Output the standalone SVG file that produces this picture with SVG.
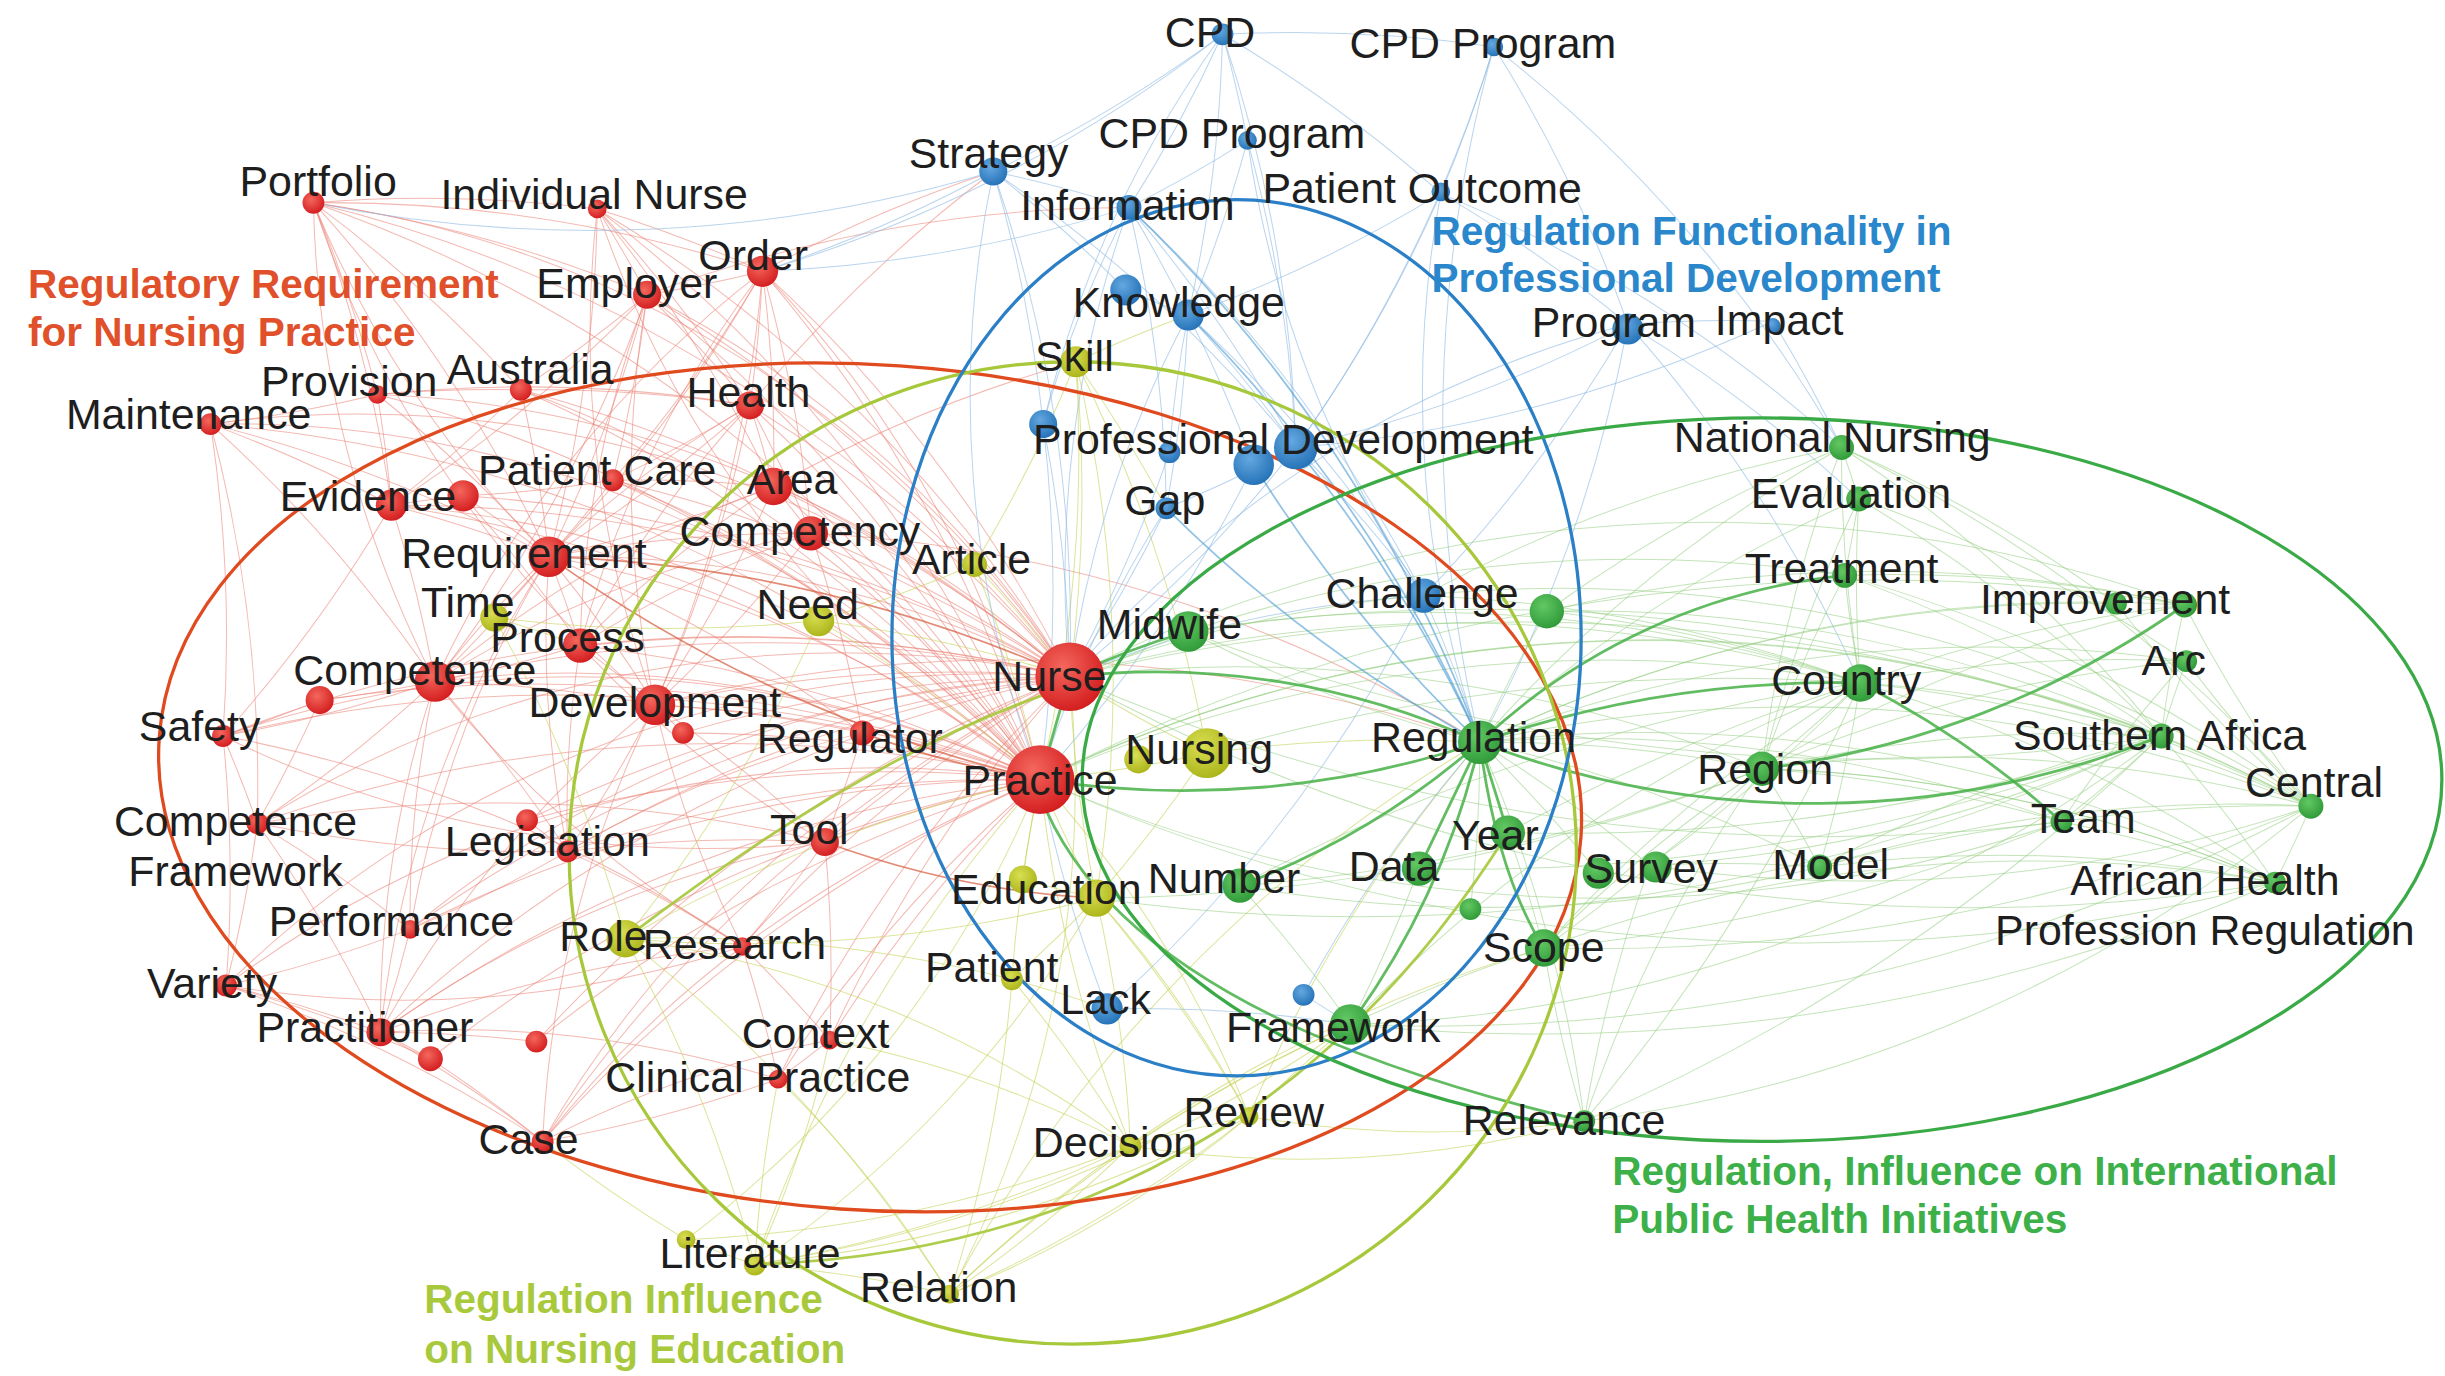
<svg xmlns="http://www.w3.org/2000/svg" width="2445" height="1376" viewBox="0 0 2445 1376">
<defs>
<radialGradient id="gR" cx="40%" cy="35%" r="70%"><stop offset="0" stop-color="#f4675c"/><stop offset="1" stop-color="#d21a1d"/></radialGradient>
<radialGradient id="gY" cx="40%" cy="35%" r="70%"><stop offset="0" stop-color="#d9df52"/><stop offset="1" stop-color="#a9b318"/></radialGradient>
<radialGradient id="gB" cx="40%" cy="35%" r="70%"><stop offset="0" stop-color="#64a8e0"/><stop offset="1" stop-color="#2270b6"/></radialGradient>
<radialGradient id="gG" cx="40%" cy="35%" r="70%"><stop offset="0" stop-color="#62c862"/><stop offset="1" stop-color="#2e9838"/></radialGradient>
</defs>
<style>
.t{font-family:"Liberation Sans",Arial,sans-serif;font-size:27.5px;fill:#1e1e1e;text-anchor:middle}
.h{font-family:"Liberation Sans",Arial,sans-serif;font-size:26px;font-weight:bold}
#connectors path{fill:none}
.r path{stroke:#e97f72;stroke-width:.65;opacity:.55}
.y path{stroke:#c6d257;stroke-width:.65;opacity:.6}
.b path{stroke:#8cb9e2;stroke-width:.65;opacity:.6}
.g path{stroke:#93cd80;stroke-width:.65;opacity:.55}
.rs path{stroke:#d65a3c;stroke-width:1.1;opacity:.7}
.ys path{stroke:#a6c83a;stroke-width:1.8;opacity:.9}
.bs path{stroke:#4a9ad2;stroke-width:1.1;opacity:.6}
.gs path{stroke:#46b046;stroke-width:1.8;opacity:.85}
.cl{fill:none;stroke-width:2.1}
.nr{fill:url(#gR)}.ny{fill:url(#gY)}.nb{fill:url(#gB)}.ng{fill:url(#gG)}
</style>
<rect width="2445" height="1376" fill="#ffffff"/>
<g transform="scale(1.55931)">
<g id="connectors">
<g class="r">
<path d="M201 130A900 900 0 0 1 383 134"/><path d="M201 130A900 900 0 0 1 415 189"/><path d="M201 130A900 900 0 0 1 352 357"/><path d="M201 130A900 900 0 0 1 251 324"/><path d="M201 130A900 900 0 0 1 489 174"/><path d="M201 130A900 900 0 0 1 242 253"/><path d="M201 130A900 900 0 0 1 334 250"/><path d="M201 130A900 900 0 0 1 667 500"/><path d="M201 130A900 900 0 0 1 686 434"/>
<path d="M383 134A900 900 0 0 1 489 174"/><path d="M383 134A900 900 0 0 1 415 189"/><path d="M383 134A900 900 0 0 1 481 260"/><path d="M383 134A900 900 0 0 1 352 357"/><path d="M383 134A900 900 0 0 1 686 434"/><path d="M383 134A900 900 0 0 1 496 312"/><path d="M383 134A900 900 0 0 1 667 500"/>
<path d="M489 174A900 900 0 0 1 415 189"/><path d="M489 174A900 900 0 0 1 481 260"/><path d="M489 174A900 900 0 0 1 686 434"/><path d="M489 174A900 900 0 0 1 667 500"/><path d="M489 174A900 900 0 0 1 496 312"/><path d="M489 174A900 900 0 0 1 520 342"/><path d="M489 174A900 900 0 0 1 352 357"/><path d="M489 174A900 900 0 0 1 393 308"/><path d="M489 174A900 900 0 0 1 420 452"/>
<path d="M415 189A900 900 0 0 1 481 260"/><path d="M415 189A900 900 0 0 1 334 250"/><path d="M415 189A900 900 0 0 1 352 357"/><path d="M415 189A900 900 0 0 1 686 434"/><path d="M415 189A900 900 0 0 1 667 500"/><path d="M415 189A900 900 0 0 1 393 308"/><path d="M415 189A900 900 0 0 1 251 324"/><path d="M415 189A900 900 0 0 1 279 437"/>
<path d="M242 253A900 900 0 0 1 135 272"/><path d="M242 253A900 900 0 0 1 334 250"/><path d="M242 253A900 900 0 0 1 251 324"/><path d="M242 253A900 900 0 0 1 352 357"/><path d="M242 253A900 900 0 0 1 667 500"/><path d="M242 253A900 900 0 0 1 481 260"/>
<path d="M334 250A900 900 0 0 1 481 260"/><path d="M334 250A900 900 0 0 1 352 357"/><path d="M334 250A900 900 0 0 1 686 434"/><path d="M334 250A900 900 0 0 1 667 500"/><path d="M334 250A900 900 0 0 1 251 324"/>
<path d="M135 272A900 900 0 0 1 251 324"/><path d="M135 272A900 900 0 0 1 352 357"/><path d="M135 272A900 900 0 0 1 279 437"/><path d="M135 272A900 900 0 0 1 143 472"/><path d="M135 272A900 900 0 0 1 667 500"/><path d="M135 272A900 900 0 0 1 165 528"/>
<path d="M481 260A900 900 0 0 1 496 312"/><path d="M481 260A900 900 0 0 1 686 434"/><path d="M481 260A900 900 0 0 1 667 500"/><path d="M481 260A900 900 0 0 1 520 342"/><path d="M481 260A900 900 0 0 1 393 308"/><path d="M481 260A900 900 0 0 1 352 357"/><path d="M481 260A900 900 0 0 1 420 452"/>
<path d="M393 308A900 900 0 0 1 496 312"/><path d="M393 308A900 900 0 0 1 352 357"/><path d="M393 308A900 900 0 0 1 686 434"/><path d="M393 308A900 900 0 0 1 667 500"/><path d="M393 308A900 900 0 0 1 297 318"/>
<path d="M496 312A900 900 0 0 1 520 342"/><path d="M496 312A900 900 0 0 1 686 434"/><path d="M496 312A900 900 0 0 1 667 500"/><path d="M496 312A900 900 0 0 1 352 357"/><path d="M496 312A900 900 0 0 1 420 452"/>
<path d="M251 324A900 900 0 0 1 352 357"/><path d="M251 324A900 900 0 0 1 279 437"/><path d="M251 324A900 900 0 0 1 667 500"/><path d="M251 324A900 900 0 0 1 686 434"/><path d="M251 324A900 900 0 0 1 297 318"/><path d="M251 324A900 900 0 0 1 143 472"/>
<path d="M297 318A900 900 0 0 1 352 357"/><path d="M297 318A900 900 0 0 1 686 434"/><path d="M297 318A900 900 0 0 1 372 414"/>
<path d="M352 357A900 900 0 0 1 520 342"/><path d="M352 357A900 900 0 0 1 372 414"/><path d="M352 357A900 900 0 0 1 279 437"/><path d="M352 357A900 900 0 0 1 420 452"/><path d="M352 357A900 900 0 0 1 317 396"/><path d="M352 357A900 900 0 0 1 553 470"/>
<path d="M520 342A900 900 0 0 1 686 434"/><path d="M520 342A900 900 0 0 1 667 500"/><path d="M520 342A900 900 0 0 1 420 452"/><path d="M520 342A900 900 0 0 1 553 470"/>
<path d="M372 414A900 900 0 0 1 279 437"/><path d="M372 414A900 900 0 0 1 420 452"/><path d="M372 414A900 900 0 0 1 686 434"/><path d="M372 414A900 900 0 0 1 667 500"/>
<path d="M279 437A900 900 0 0 1 205 449"/><path d="M279 437A900 900 0 0 1 420 452"/><path d="M279 437A900 900 0 0 1 686 434"/><path d="M279 437A900 900 0 0 1 143 472"/><path d="M279 437A900 900 0 0 1 364 546"/><path d="M279 437A900 900 0 0 1 165 528"/>
<path d="M205 449A900 900 0 0 1 143 472"/><path d="M205 449A900 900 0 0 1 165 528"/><path d="M205 449A900 900 0 0 1 667 500"/>
<path d="M420 452A900 900 0 0 1 438 470"/><path d="M420 452A900 900 0 0 1 686 434"/><path d="M420 452A900 900 0 0 1 667 500"/><path d="M420 452A900 900 0 0 1 553 470"/><path d="M420 452A900 900 0 0 1 364 546"/><path d="M420 452A900 900 0 0 1 529 540"/>
<path d="M438 470A900 900 0 0 1 667 500"/><path d="M438 470A900 900 0 0 1 686 434"/>
<path d="M143 472A900 900 0 0 1 165 528"/><path d="M143 472A900 900 0 0 1 667 500"/><path d="M143 472A900 900 0 0 1 145 632"/><path d="M143 472A900 900 0 0 1 686 434"/><path d="M143 472A900 900 0 0 1 476 607"/>
<path d="M553 470A900 900 0 0 1 529 540"/>
<path d="M364 546A900 900 0 0 1 338 526"/><path d="M364 546A900 900 0 0 1 667 500"/><path d="M364 546A900 900 0 0 1 686 434"/><path d="M364 546A900 900 0 0 1 165 528"/><path d="M364 546A900 900 0 0 1 263 596"/><path d="M364 546A900 900 0 0 1 476 607"/><path d="M364 546A900 900 0 0 1 529 540"/>
<path d="M338 526A900 900 0 0 1 686 434"/><path d="M338 526A900 900 0 0 1 667 500"/>
<path d="M165 528A900 900 0 0 1 145 632"/><path d="M165 528A900 900 0 0 1 263 596"/><path d="M165 528A900 900 0 0 1 667 500"/><path d="M165 528A900 900 0 0 1 244 662"/><path d="M165 528A900 900 0 0 1 529 540"/>
<path d="M529 540A900 900 0 0 1 667 500"/><path d="M529 540A900 900 0 0 1 686 434"/><path d="M529 540A900 900 0 0 1 476 607"/><path d="M529 540A900 900 0 0 1 532 667"/>
<path d="M263 596A900 900 0 0 1 244 662"/><path d="M263 596A900 900 0 0 1 145 632"/><path d="M263 596A900 900 0 0 1 667 500"/><path d="M263 596A900 900 0 0 1 686 434"/>
<path d="M476 607A900 900 0 0 1 667 500"/><path d="M476 607A900 900 0 0 1 686 434"/><path d="M476 607A900 900 0 0 1 532 667"/><path d="M476 607A900 900 0 0 1 499 692"/>
<path d="M145 632A900 900 0 0 1 244 662"/><path d="M145 632A900 900 0 0 1 276 679"/><path d="M145 632A900 900 0 0 1 348 732"/>
<path d="M244 662A900 900 0 0 1 276 679"/><path d="M244 662A900 900 0 0 1 344 668"/><path d="M244 662A900 900 0 0 1 348 732"/><path d="M244 662A900 900 0 0 1 667 500"/><path d="M244 662A900 900 0 0 1 686 434"/><path d="M244 662A900 900 0 0 1 476 607"/>
<path d="M276 679A900 900 0 0 1 348 732"/><path d="M276 679A900 900 0 0 1 667 500"/><path d="M344 668A900 900 0 0 1 667 500"/><path d="M344 668A900 900 0 0 1 686 434"/>
<path d="M532 667A900 900 0 0 1 499 692"/><path d="M532 667A900 900 0 0 1 667 500"/><path d="M532 667A900 900 0 0 1 686 434"/>
<path d="M499 692A900 900 0 0 1 348 732"/><path d="M499 692A900 900 0 0 1 667 500"/><path d="M499 692A900 900 0 0 1 686 434"/>
<path d="M348 732A900 900 0 0 1 667 500"/><path d="M348 732A900 900 0 0 1 686 434"/>
<path d="M489 174A900 900 0 0 1 637 110"/><path d="M481 260A900 900 0 0 1 637 110"/><path d="M415 189A900 900 0 0 1 724 133"/><path d="M496 312A900 900 0 0 1 690 232"/><path d="M520 342A900 900 0 0 1 949 476"/><path d="M420 452A900 900 0 0 1 949 476"/>
<path d="M201 130A700 700 0 0 0 352 357"/><path d="M201 130A700 700 0 0 0 420 452"/><path d="M201 130A700 700 0 0 0 279 437"/><path d="M383 134A700 700 0 0 0 420 452"/><path d="M383 134A700 700 0 0 0 667 500"/><path d="M489 174A700 700 0 0 0 372 414"/><path d="M489 174A700 700 0 0 0 279 437"/><path d="M415 189A700 700 0 0 0 420 452"/><path d="M415 189A700 700 0 0 0 372 414"/><path d="M481 260A700 700 0 0 0 372 414"/><path d="M481 260A700 700 0 0 0 279 437"/><path d="M496 312A700 700 0 0 0 372 414"/><path d="M496 312A700 700 0 0 0 279 437"/><path d="M520 342A700 700 0 0 0 372 414"/><path d="M520 342A700 700 0 0 0 279 437"/>
<path d="M352 357A700 700 0 0 0 364 546"/><path d="M352 357A700 700 0 0 0 263 596"/><path d="M352 357A700 700 0 0 0 244 662"/><path d="M420 452A700 700 0 0 0 244 662"/><path d="M420 452A700 700 0 0 0 476 607"/><path d="M420 452A700 700 0 0 0 348 732"/><path d="M279 437A700 700 0 0 0 244 662"/><path d="M279 437A700 700 0 0 0 263 596"/><path d="M279 437A700 700 0 0 0 476 607"/><path d="M372 414A700 700 0 0 0 364 546"/><path d="M372 414A700 700 0 0 0 529 540"/>
<path d="M686 434A700 700 0 0 0 145 632"/><path d="M686 434A700 700 0 0 0 165 528"/><path d="M686 434A700 700 0 0 0 263 596"/><path d="M686 434A700 700 0 0 0 348 732"/><path d="M667 500A700 700 0 0 0 143 472"/><path d="M667 500A700 700 0 0 0 145 632"/><path d="M667 500A700 700 0 0 0 279 437"/><path d="M667 500A700 700 0 0 0 251 324"/><path d="M667 500A700 700 0 0 0 135 272"/><path d="M686 434A700 700 0 0 0 135 272"/><path d="M686 434A700 700 0 0 0 201 130"/><path d="M667 500A700 700 0 0 0 489 174"/><path d="M686 434A700 700 0 0 0 352 357"/><path d="M667 500A700 700 0 0 0 352 357"/>
<path d="M553 470A700 700 0 0 0 364 546"/><path d="M529 540A700 700 0 0 0 244 662"/><path d="M476 607A700 700 0 0 0 348 732"/><path d="M532 667A700 700 0 0 0 348 732"/><path d="M499 692A700 700 0 0 0 244 662"/><path d="M145 632A700 700 0 0 0 476 607"/><path d="M143 472A700 700 0 0 0 529 540"/><path d="M686 434A700 700 0 0 0 242 253"/><path d="M667 500A700 700 0 0 0 334 250"/><path d="M686 434A700 700 0 0 0 415 189"/><path d="M667 500A700 700 0 0 0 393 308"/>
</g>
<g class="y">
<path d="M690 232A900 900 0 0 1 686 434"/><path d="M690 232A900 900 0 0 1 667 500"/><path d="M690 232A900 900 0 0 1 703 576"/><path d="M690 232A900 900 0 0 1 762 202"/><path d="M690 232A900 900 0 0 1 625 362"/><path d="M690 232A900 900 0 0 1 748 326"/><path d="M690 232A900 900 0 0 1 774 483"/>
<path d="M625 362A900 900 0 0 1 686 434"/><path d="M625 362A900 900 0 0 1 667 500"/><path d="M625 362A900 900 0 0 1 525 398"/>
<path d="M525 398A900 900 0 0 1 686 434"/><path d="M525 398A900 900 0 0 1 667 500"/><path d="M525 398A900 900 0 0 1 317 396"/><path d="M525 398A900 900 0 0 1 401 602"/>
<path d="M317 396A900 900 0 0 1 372 414"/><path d="M317 396A900 900 0 0 1 401 602"/>
<path d="M774 483A900 900 0 0 1 686 434"/><path d="M774 483A900 900 0 0 1 667 500"/><path d="M774 483A900 900 0 0 1 703 576"/><path d="M774 483A900 900 0 0 1 949 476"/>
<path d="M703 576A900 900 0 0 1 667 500"/><path d="M703 576A900 900 0 0 1 686 434"/><path d="M703 576A900 900 0 0 1 649 628"/><path d="M703 576A900 900 0 0 1 725 735"/><path d="M703 576A900 900 0 0 1 801 716"/><path d="M703 576A900 900 0 0 1 401 602"/><path d="M703 576A900 900 0 0 1 656 564"/>
<path d="M656 564A900 900 0 0 1 667 500"/>
<path d="M401 602A900 900 0 0 1 484 811"/><path d="M401 602A900 900 0 0 1 609 830"/><path d="M401 602A900 900 0 0 1 667 500"/><path d="M401 602A900 900 0 0 1 649 628"/>
<path d="M649 628A900 900 0 0 1 725 735"/><path d="M649 628A900 900 0 0 1 710 647"/><path d="M649 628A900 900 0 0 1 667 500"/><path d="M649 628A900 900 0 0 1 609 830"/>
<path d="M725 735A900 900 0 0 1 801 716"/><path d="M725 735A900 900 0 0 1 609 830"/><path d="M725 735A900 900 0 0 1 484 811"/><path d="M725 735A900 900 0 0 1 866 657"/><path d="M725 735A900 900 0 0 1 667 500"/>
<path d="M801 716A900 900 0 0 1 609 830"/><path d="M801 716A900 900 0 0 1 866 657"/><path d="M801 716A900 900 0 0 1 484 811"/><path d="M801 716A900 900 0 0 1 949 476"/>
<path d="M484 811A900 900 0 0 1 440 795"/><path d="M484 811A900 900 0 0 1 609 830"/><path d="M484 811A900 900 0 0 1 499 692"/><path d="M484 811A900 900 0 0 1 667 500"/><path d="M440 795A900 900 0 0 1 348 732"/>
<path d="M609 830A900 900 0 0 1 866 657"/><path d="M609 830A900 900 0 0 1 990 608"/><path d="M609 830A900 900 0 0 1 949 476"/>
<path d="M609 830A700 700 0 0 0 686 434"/><path d="M484 811A700 700 0 0 0 703 576"/><path d="M725 735A700 700 0 0 0 401 602"/><path d="M801 716A700 700 0 0 0 667 500"/><path d="M440 795A700 700 0 0 0 667 500"/><path d="M484 811A700 700 0 0 0 532 667"/><path d="M609 830A700 700 0 0 0 499 692"/><path d="M725 735A700 700 0 0 0 532 667"/><path d="M801 716A700 700 0 0 0 703 576"/><path d="M609 830A700 700 0 0 0 801 716"/><path d="M725 735A700 700 0 0 0 1016 719"/><path d="M801 716A700 700 0 0 0 1016 719"/><path d="M484 811A900 900 0 0 0 866 657"/><path d="M440 795A900 900 0 0 0 725 735"/>
</g>
<g class="b">
<path d="M784 22A900 900 0 0 1 637 110"/><path d="M784 22A900 900 0 0 1 724 133"/><path d="M784 22A900 900 0 0 1 800 90"/><path d="M784 22A900 900 0 0 1 762 202"/><path d="M784 22A900 900 0 0 1 831 287"/><path d="M784 22A900 900 0 0 1 924 124"/><path d="M784 22A900 900 0 0 1 958 30"/>
<path d="M958 30A900 900 0 0 1 924 124"/><path d="M958 30A900 900 0 0 1 1044 208"/><path d="M958 30A900 900 0 0 1 831 287"/><path d="M958 30A900 900 0 0 1 1181 287"/>
<path d="M800 90A900 900 0 0 1 724 133"/><path d="M800 90A900 900 0 0 1 762 202"/><path d="M800 90A900 900 0 0 1 831 287"/>
<path d="M637 110A900 900 0 0 1 724 133"/><path d="M637 110A900 900 0 0 1 722 186"/><path d="M637 110A900 900 0 0 1 831 287"/><path d="M637 110A900 900 0 0 1 669 272"/><path d="M637 110A900 900 0 0 1 686 434"/><path d="M637 110A900 900 0 0 1 489 174"/><path d="M637 110A900 900 0 0 1 201 130"/>
<path d="M724 133A900 900 0 0 1 762 202"/><path d="M724 133A900 900 0 0 1 831 287"/><path d="M724 133A900 900 0 0 1 913 382"/><path d="M724 133A900 900 0 0 1 748 326"/><path d="M724 133A900 900 0 0 1 489 174"/>
<path d="M924 124A900 900 0 0 1 1044 208"/><path d="M924 124A900 900 0 0 1 831 287"/><path d="M924 124A900 900 0 0 1 762 202"/><path d="M924 124A900 900 0 0 1 1181 287"/>
<path d="M762 202A900 900 0 0 1 722 186"/><path d="M762 202A900 900 0 0 1 831 287"/><path d="M762 202A900 900 0 0 1 804 298"/><path d="M762 202A900 900 0 0 1 748 326"/><path d="M762 202A900 900 0 0 1 913 382"/>
<path d="M1044 208A900 900 0 0 1 1137 206"/><path d="M1044 208A900 900 0 0 1 831 287"/><path d="M1044 208A900 900 0 0 1 949 476"/><path d="M1044 208A900 900 0 0 1 913 382"/><path d="M1044 208A900 900 0 0 1 1193 438"/><path d="M1044 208A900 900 0 0 1 1192 320"/>
<path d="M1137 206A900 900 0 0 1 831 287"/><path d="M1137 206A900 900 0 0 1 1181 287"/>
<path d="M831 287A900 900 0 0 1 804 298"/><path d="M831 287A900 900 0 0 1 913 382"/><path d="M831 287A900 900 0 0 1 686 434"/><path d="M831 287A900 900 0 0 1 748 326"/>
<path d="M669 272A900 900 0 0 1 686 434"/><path d="M669 272A900 900 0 0 1 667 500"/><path d="M804 298A900 900 0 0 1 667 500"/><path d="M750 290A900 900 0 0 1 686 434"/><path d="M748 326A900 900 0 0 1 686 434"/>
<path d="M913 382A900 900 0 0 1 949 476"/><path d="M913 382A900 900 0 0 1 710 647"/>
<path d="M710 647A900 900 0 0 1 866 657"/><path d="M710 647A900 900 0 0 1 667 500"/><path d="M836 638A900 900 0 0 1 866 657"/><path d="M836 638A900 900 0 0 1 949 476"/>
<path d="M784 22A900 900 0 0 1 489 174"/>
<path d="M762 202A700 700 0 0 0 686 434"/><path d="M724 133A700 700 0 0 0 686 434"/><path d="M637 110A700 700 0 0 0 667 500"/><path d="M784 22A700 700 0 0 0 669 272"/><path d="M724 133A700 700 0 0 0 669 272"/><path d="M762 202A700 700 0 0 0 750 290"/><path d="M748 326A700 700 0 0 0 667 500"/><path d="M913 382A700 700 0 0 0 686 434"/><path d="M924 124A700 700 0 0 0 949 476"/><path d="M958 30A900 900 0 0 0 949 476"/><path d="M800 90A700 700 0 0 0 913 382"/><path d="M1044 208A700 700 0 0 0 686 434"/>
</g>
<g class="g">
<path d="M949 476A900 900 0 0 1 1181 287"/><path d="M949 476A900 900 0 0 1 1192 320"/><path d="M949 476A900 900 0 0 1 1130 493"/><path d="M949 476A900 900 0 0 1 1058 555"/><path d="M949 476A900 900 0 0 1 1167 556"/><path d="M949 476A900 900 0 0 1 1322 527"/><path d="M949 476A900 900 0 0 1 1401 388"/><path d="M949 476A900 900 0 0 1 1357 387"/><path d="M949 476A900 900 0 0 1 1482 517"/><path d="M949 476A900 900 0 0 1 1459 566"/><path d="M949 476A900 900 0 0 1 1402 424"/><path d="M949 476A900 900 0 0 1 1016 719"/><path d="M949 476A900 900 0 0 1 762 405"/><path d="M949 476A900 900 0 0 1 992 392"/><path d="M949 476A900 900 0 0 1 943 583"/><path d="M949 476A900 900 0 0 1 1025 560"/>
<path d="M1193 438A900 900 0 0 1 1181 287"/><path d="M1193 438A900 900 0 0 1 1192 320"/><path d="M1193 438A900 900 0 0 1 1183 369"/><path d="M1193 438A900 900 0 0 1 1130 493"/><path d="M1193 438A900 900 0 0 1 1386 472"/><path d="M1193 438A900 900 0 0 1 1401 388"/><path d="M1193 438A900 900 0 0 1 1402 424"/><path d="M1193 438A900 900 0 0 1 1482 517"/><path d="M1193 438A900 900 0 0 1 1459 566"/><path d="M1193 438A900 900 0 0 1 1167 556"/><path d="M1193 438A900 900 0 0 1 1058 555"/>
<path d="M1130 493A900 900 0 0 1 1386 472"/><path d="M1130 493A900 900 0 0 1 1482 517"/><path d="M1130 493A900 900 0 0 1 1322 527"/><path d="M1130 493A900 900 0 0 1 1167 556"/><path d="M1130 493A900 900 0 0 1 1058 555"/><path d="M1130 493A900 900 0 0 1 1459 566"/>
<path d="M1386 472A900 900 0 0 1 1482 517"/><path d="M1386 472A900 900 0 0 1 1459 566"/><path d="M1386 472A900 900 0 0 1 1402 424"/><path d="M1386 472A900 900 0 0 1 1401 388"/><path d="M1386 472A900 900 0 0 1 1322 527"/>
<path d="M1482 517A900 900 0 0 1 1459 566"/><path d="M1482 517A900 900 0 0 1 1402 424"/><path d="M1482 517A900 900 0 0 1 1401 388"/><path d="M1482 517A900 900 0 0 1 1357 387"/>
<path d="M1181 287A900 900 0 0 1 1192 320"/><path d="M1192 320A900 900 0 0 1 1183 369"/><path d="M1183 369A900 900 0 0 1 1401 388"/><path d="M1183 369A900 900 0 0 1 1386 472"/><path d="M1181 287A900 900 0 0 1 1482 517"/><path d="M1192 320A900 900 0 0 1 1402 424"/><path d="M1181 287A900 900 0 0 1 1357 387"/>
<path d="M1058 555A900 900 0 0 1 1167 556"/><path d="M1058 555A900 900 0 0 1 990 608"/><path d="M1167 556A900 900 0 0 1 1459 566"/><path d="M1322 527A900 900 0 0 1 1459 566"/><path d="M1322 527A900 900 0 0 1 1482 517"/>
<path d="M686 434A900 900 0 0 1 1193 438"/><path d="M667 500A900 900 0 0 1 1193 438"/><path d="M686 434A900 900 0 0 1 1130 493"/><path d="M667 500A900 900 0 0 1 1386 472"/><path d="M762 405A900 900 0 0 1 1193 438"/><path d="M866 657A900 900 0 0 1 1193 438"/><path d="M990 608A900 900 0 0 1 1130 493"/><path d="M667 500A900 900 0 0 1 1482 517"/><path d="M686 434A900 900 0 0 1 1482 517"/><path d="M686 434A900 900 0 0 1 1401 388"/>
<path d="M967 534A900 900 0 0 1 990 608"/><path d="M910 557A900 900 0 0 1 866 657"/><path d="M795 568A900 900 0 0 1 866 657"/><path d="M762 405A900 900 0 0 1 686 434"/><path d="M762 405A900 900 0 0 1 1183 369"/><path d="M992 392A900 900 0 0 1 1193 438"/><path d="M992 392A900 900 0 0 1 1181 287"/>
<path d="M1016 719A900 900 0 0 1 990 608"/><path d="M1016 719A900 900 0 0 1 1058 555"/><path d="M1016 719A900 900 0 0 1 1130 493"/><path d="M866 657A900 900 0 0 1 990 608"/><path d="M990 608A900 900 0 0 1 1193 438"/><path d="M990 608A900 900 0 0 1 1459 566"/>
<path d="M1016 719A900 900 0 0 0 1482 517"/><path d="M866 657A900 900 0 0 0 1386 472"/><path d="M667 500A900 900 0 0 0 1322 527"/><path d="M795 568A900 900 0 0 0 1167 556"/>
<path d="M686 434A1200 1200 0 0 1 1386 472"/><path d="M686 434A1200 1200 0 0 0 1322 527"/><path d="M686 434A1200 1200 0 0 0 1459 566"/><path d="M667 500A1200 1200 0 0 0 1459 566"/><path d="M667 500A1200 1200 0 0 1 1401 388"/><path d="M762 405A1200 1200 0 0 1 1482 517"/><path d="M762 405A1200 1200 0 0 0 1386 472"/><path d="M795 568A1200 1200 0 0 1 1193 438"/><path d="M795 568A1200 1200 0 0 0 1130 493"/><path d="M910 557A1200 1200 0 0 0 1386 472"/><path d="M866 657A1200 1200 0 0 0 1459 566"/><path d="M866 657A1200 1200 0 0 0 1482 517"/><path d="M1016 719A1200 1200 0 0 0 1386 472"/><path d="M1016 719A1200 1200 0 0 0 1193 438"/><path d="M990 608A1200 1200 0 0 0 1322 527"/><path d="M990 608A1200 1200 0 0 0 1482 517"/><path d="M967 534A1200 1200 0 0 1 1193 438"/><path d="M967 534A1200 1200 0 0 0 1386 472"/>
<path d="M1181 287A900 900 0 0 0 1130 493"/><path d="M1181 287A900 900 0 0 1 1386 472"/><path d="M1192 320A900 900 0 0 0 1130 493"/><path d="M1192 320A900 900 0 0 1 1386 472"/><path d="M1183 369A900 900 0 0 0 1130 493"/><path d="M1183 369A900 900 0 0 1 1482 517"/><path d="M1401 388A900 900 0 0 0 1130 493"/><path d="M1402 424A900 900 0 0 0 1130 493"/><path d="M1402 424A900 900 0 0 0 1322 527"/><path d="M1482 517A900 900 0 0 0 1167 556"/><path d="M1386 472A900 900 0 0 0 1167 556"/><path d="M1322 527A900 900 0 0 0 1167 556"/><path d="M1459 566A900 900 0 0 0 1130 493"/><path d="M1058 555A900 900 0 0 0 1482 517"/><path d="M1058 555A900 900 0 0 0 1386 472"/><path d="M913 382A900 900 0 0 1 1193 438"/><path d="M913 382A900 900 0 0 1 1181 287"/><path d="M992 392A900 900 0 0 1 1386 472"/><path d="M992 392A900 900 0 0 1 1401 388"/><path d="M774 483A1200 1200 0 0 1 1193 438"/><path d="M703 576A1200 1200 0 0 0 1130 493"/><path d="M703 576A1200 1200 0 0 0 1386 472"/>
</g>
<g class="rs">
<path d="M352 357A900 900 0 0 0 667 500"/><path d="M529 540A600 600 0 0 0 703 576"/><path d="M553 470A600 600 0 0 0 667 500"/><path d="M352 357A900 900 0 0 1 686 434"/>
</g>
<g class="bs">
<path d="M831 287A900 900 0 0 1 949 476"/><path d="M804 298A900 900 0 0 0 949 476"/><path d="M762 202A900 900 0 0 1 949 476"/><path d="M724 133A900 900 0 0 1 949 476"/><path d="M748 326A900 900 0 0 0 949 476"/>
</g>
<g class="ys">
<path d="M686 440Q560 480 401 602"/><path d="M484 811Q800 800 967 534"/>
</g>
<g class="gs">
<path d="M686 434A500 500 0 0 1 949 476"/><path d="M667 500A600 600 0 0 0 949 476"/><path d="M686 434L667 500"/><path d="M667 510Q720 650 1016 719"/>
<path d="M949 476L967 534"/><path d="M949 476Q960 560 990 608"/><path d="M949 476L910 557"/><path d="M949 476A500 500 0 0 1 795 568"/><path d="M949 476A500 500 0 0 1 866 657"/>
<path d="M949 476A700 700 0 0 1 1193 438"/><path d="M949 476A400 400 0 0 1 1183 369"/><path d="M949 476A600 600 0 0 0 1386 472"/><path d="M1193 438A600 600 0 0 1 1322 527"/><path d="M1130 493A600 600 0 0 0 1401 388"/><path d="M686 434A500 500 0 0 1 762 405"/>
</g>
</g>
<g id="clusters">
<ellipse class="cl" cx="558" cy="505" rx="457" ry="271" transform="rotate(4 558 505)" stroke="#e04a1f"/>
<ellipse class="cl" cx="688" cy="547" rx="323" ry="315" stroke="#a6c83a"/>
<ellipse class="cl" cx="793" cy="409" rx="221" ry="281" stroke="#2a7fc6"/>
<ellipse class="cl" cx="1130" cy="500" rx="436" ry="232" stroke="#3aaa46"/>
</g>
<g id="nodes">
<g id="n-portfolio"><circle class="nr" cx="201" cy="130" r="7"/><text class="t" x="204" y="126">Portfolio</text></g>
<g id="n-individual-nurse"><circle class="nr" cx="383" cy="134" r="6"/><text class="t" x="381" y="134">Individual Nurse</text></g>
<g id="n-order"><circle class="nr" cx="489" cy="174" r="10"/><text class="t" x="483" y="173">Order</text></g>
<g id="n-employer"><circle class="nr" cx="415" cy="189" r="9"/><text class="t" x="402" y="191">Employer</text></g>
<g id="n-provision"><circle class="nr" cx="242" cy="253" r="6"/><text class="t" x="224" y="254">Provision</text></g>
<g id="n-australia"><circle class="nr" cx="334" cy="250" r="7"/><text class="t" x="340" y="246">Australia</text></g>
<g id="n-maintenance"><circle class="nr" cx="135" cy="272" r="7"/><text class="t" x="121" y="275">Maintenance</text></g>
<g id="n-health"><circle class="nr" cx="481" cy="260" r="9"/><text class="t" x="480" y="261">Health</text></g>
<g id="n-patient-care"><circle class="nr" cx="393" cy="308" r="7"/><text class="t" x="383" y="311">Patient Care</text></g>
<g id="n-area"><circle class="nr" cx="496" cy="312" r="12"/><text class="t" x="508" y="317">Area</text></g>
<g id="n-evidence"><circle class="nr" cx="251" cy="324" r="10"/><circle class="nr" cx="297" cy="318" r="10"/><text class="t" x="236" y="328">Evidence</text></g>
<g id="n-requirement"><circle class="nr" cx="352" cy="357" r="13"/><text class="t" x="336" y="364">Requirement</text></g>
<g id="n-competency"><circle class="nr" cx="520" cy="342" r="11"/><text class="t" x="513" y="350">Competency</text></g>
<g id="n-time"><circle class="ny" cx="317" cy="396" r="9"/><text class="t" x="300" y="396">Time</text></g>
<g id="n-process"><circle class="nr" cx="372" cy="414" r="11"/><text class="t" x="364" y="418">Process</text></g>
<g id="n-competence"><circle class="nr" cx="279" cy="437" r="13"/><circle class="nr" cx="205" cy="449" r="9"/><text class="t" x="266" y="439">Competence</text></g>
<g id="n-development"><circle class="nr" cx="420" cy="452" r="13"/><circle class="nr" cx="438" cy="470" r="7"/><text class="t" x="420" y="460">Development</text></g>
<g id="n-safety"><circle class="nr" cx="143" cy="472" r="7"/><text class="t" x="128" y="475">Safety</text></g>
<g id="n-regulator"><circle class="nr" cx="553" cy="470" r="8"/><text class="t" x="545" y="483">Regulator</text></g>
<g id="n-nurse"><circle class="nr" cx="686" cy="434" r="22"/><text class="t" x="673" y="443">Nurse</text></g>
<g id="n-practice"><circle class="nr" cx="667" cy="500" r="22"/><text class="t" x="667" y="510">Practice</text></g>
<g id="n-legislation"><circle class="nr" cx="338" cy="526" r="7"/><circle class="nr" cx="364" cy="546" r="7"/><text class="t" x="351" y="549">Legislation</text></g>
<g id="n-competence-framework"><circle class="nr" cx="165" cy="528" r="7"/><text class="t" x="151" y="536">Competence</text><text class="t" x="151" y="568">Framework</text></g>
<g id="n-tool"><circle class="nr" cx="529" cy="540" r="9"/><text class="t" x="519" y="541">Tool</text></g>
<g id="n-performance"><circle class="nr" cx="263" cy="596" r="6"/><text class="t" x="251" y="600">Performance</text></g>
<g id="n-role"><circle class="ny" cx="401" cy="602" r="12"/><text class="t" x="387" y="610">Role</text></g>
<g id="n-research"><circle class="nr" cx="476" cy="607" r="6"/><text class="t" x="471" y="615">Research</text></g>
<g id="n-variety"><circle class="nr" cx="145" cy="632" r="7"/><text class="t" x="136" y="640">Variety</text></g>
<g id="n-practitioner"><circle class="nr" cx="244" cy="662" r="9"/><circle class="nr" cx="276" cy="679" r="8"/><text class="t" x="234" y="668">Practitioner</text></g>
<g id="n-dot-red"><circle class="nr" cx="344" cy="668" r="7"/></g>
<g id="n-context"><circle class="nr" cx="532" cy="667" r="6"/><text class="t" x="523" y="672">Context</text></g>
<g id="n-clinical-practice"><circle class="nr" cx="499" cy="692" r="6"/><text class="t" x="486" y="700">Clinical Practice</text></g>
<g id="n-case"><circle class="nr" cx="348" cy="732" r="7"/><text class="t" x="339" y="740">Case</text></g>
<g id="n-skill"><circle class="ny" cx="690" cy="232" r="10"/><text class="t" x="689" y="238">Skill</text></g>
<g id="n-article"><circle class="ny" cx="625" cy="362" r="8"/><text class="t" x="623" y="368">Article</text></g>
<g id="n-need"><circle class="ny" cx="525" cy="398" r="10"/><text class="t" x="518" y="397">Need</text></g>
<g id="n-nursing"><circle class="ny" cx="774" cy="483" r="16"/><circle class="ny" cx="730" cy="487" r="9"/><text class="t" x="769" y="490">Nursing</text></g>
<g id="n-education"><circle class="ny" cx="656" cy="564" r="9"/><circle class="ny" cx="703" cy="576" r="12"/><text class="t" x="671" y="580">Education</text></g>
<g id="n-patient"><circle class="ny" cx="649" cy="628" r="7"/><text class="t" x="636" y="630">Patient</text></g>
<g id="n-decision"><circle class="ny" cx="725" cy="735" r="7"/><text class="t" x="715" y="742">Decision</text></g>
<g id="n-review"><circle class="ny" cx="801" cy="716" r="6"/><text class="t" x="804" y="723">Review</text></g>
<g id="n-literature"><circle class="ny" cx="440" cy="795" r="6"/><circle class="ny" cx="484" cy="811" r="7"/><text class="t" x="481" y="813">Literature</text></g>
<g id="n-relation"><circle class="ny" cx="609" cy="830" r="6"/><text class="t" x="602" y="835">Relation</text></g>
<g id="n-cpd"><circle class="nb" cx="784" cy="22" r="7"/><text class="t" x="776" y="30">CPD</text></g>
<g id="n-cpd-program-1"><circle class="nb" cx="958" cy="30" r="6"/><text class="t" x="951" y="37">CPD Program</text></g>
<g id="n-cpd-program-2"><circle class="nb" cx="800" cy="90" r="6"/><text class="t" x="790" y="95">CPD Program</text></g>
<g id="n-strategy"><circle class="nb" cx="637" cy="110" r="9"/><text class="t" x="634" y="108">Strategy</text></g>
<g id="n-information"><circle class="nb" cx="724" cy="133" r="8"/><text class="t" x="723" y="141">Information</text></g>
<g id="n-patient-outcome"><circle class="nb" cx="924" cy="123" r="6"/><text class="t" x="912" y="130">Patient Outcome</text></g>
<g id="n-knowledge"><circle class="nb" cx="722" cy="186" r="10"/><circle class="nb" cx="762" cy="202" r="10"/><text class="t" x="756" y="203">Knowledge</text></g>
<g id="n-program"><circle class="nb" cx="1044" cy="211" r="10"/><text class="t" x="1035" y="216">Program</text></g>
<g id="n-impact"><circle class="nb" cx="1137" cy="209" r="5"/><text class="t" x="1141" y="215">Impact</text></g>
<g id="n-professional-development"><circle class="nb" cx="669" cy="272" r="9"/><circle class="nb" cx="750" cy="290" r="7"/><circle class="nb" cx="804" cy="298" r="13"/><circle class="nb" cx="831" cy="287" r="14"/><text class="t" x="823" y="291">Professional Development</text></g>
<g id="n-gap"><circle class="nb" cx="748" cy="326" r="7"/><text class="t" x="747" y="330">Gap</text></g>
<g id="n-challenge"><circle class="nb" cx="913" cy="382" r="11"/><text class="t" x="912" y="390">Challenge</text></g>
<g id="n-lack"><circle class="nb" cx="710" cy="647" r="10"/><text class="t" x="709" y="650">Lack</text></g>
<g id="n-dot-blue"><circle class="nb" cx="836" cy="638" r="7"/></g>
<g id="n-midwife"><circle class="ng" cx="762" cy="405" r="13"/><text class="t" x="750" y="410">Midwife</text></g>
<g id="n-dot-green-1"><circle class="ng" cx="992" cy="392" r="11"/></g>
<g id="n-regulation"><circle class="ng" cx="949" cy="476" r="14"/><text class="t" x="945" y="482">Regulation</text></g>
<g id="n-year"><circle class="ng" cx="967" cy="534" r="11"/><text class="t" x="959" y="545">Year</text></g>
<g id="n-data"><circle class="ng" cx="910" cy="557" r="11"/><text class="t" x="894" y="565">Data</text></g>
<g id="n-number"><circle class="ng" cx="795" cy="568" r="11"/><text class="t" x="785" y="573">Number</text></g>
<g id="n-dot-green-2"><circle class="ng" cx="943" cy="583" r="7"/></g>
<g id="n-survey"><circle class="ng" cx="1025" cy="560" r="10"/><circle class="ng" cx="1062" cy="556" r="10"/><text class="t" x="1059" y="566">Survey</text></g>
<g id="n-scope"><circle class="ng" cx="990" cy="608" r="12"/><text class="t" x="990" y="617">Scope</text></g>
<g id="n-framework"><circle class="ng" cx="866" cy="657" r="13"/><text class="t" x="855" y="668">Framework</text></g>
<g id="n-relevance"><circle class="ng" cx="1016" cy="719" r="7"/><text class="t" x="1003" y="728">Relevance</text></g>
<g id="n-national-nursing"><circle class="ng" cx="1181" cy="287" r="8"/><text class="t" x="1175" y="290">National Nursing</text></g>
<g id="n-evaluation"><circle class="ng" cx="1192" cy="320" r="8"/><text class="t" x="1187" y="326">Evaluation</text></g>
<g id="n-treatment"><circle class="ng" cx="1183" cy="369" r="8"/><text class="t" x="1181" y="374">Treatment</text></g>
<g id="n-improvement"><circle class="ng" cx="1357" cy="387" r="7"/><circle class="ng" cx="1401" cy="388" r="8"/><text class="t" x="1350" y="394">Improvement</text></g>
<g id="n-arc"><circle class="ng" cx="1402" cy="424" r="7"/><text class="t" x="1394" y="433">Arc</text></g>
<g id="n-country"><circle class="ng" cx="1193" cy="438" r="12"/><text class="t" x="1184" y="446">Country</text></g>
<g id="n-southern-africa"><circle class="ng" cx="1386" cy="472" r="8"/><text class="t" x="1385" y="481">Southern Africa</text></g>
<g id="n-region"><circle class="ng" cx="1130" cy="493" r="11"/><text class="t" x="1132" y="503">Region</text></g>
<g id="n-central"><circle class="ng" cx="1482" cy="517" r="8"/><text class="t" x="1484" y="511">Central</text></g>
<g id="n-team"><circle class="ng" cx="1322" cy="527" r="7"/><text class="t" x="1336" y="534">Team</text></g>
<g id="n-model"><circle class="ng" cx="1167" cy="556" r="8"/><text class="t" x="1174" y="564">Model</text></g>
<g id="n-ahpr"><circle class="ng" cx="1459" cy="566" r="7"/><text class="t" x="1414" y="574">African Health</text><text class="t" x="1414" y="606">Profession Regulation</text></g>
</g>
<g id="cluster-labels">
<text class="h" x="918" y="157" fill="#2a87cc">Regulation Functionality in</text>
<text class="h" x="918" y="187" fill="#2a87cc">Professional Development</text>
<text class="h" x="18" y="191" fill="#e0502a">Regulatory Requirement</text>
<text class="h" x="18" y="222" fill="#e0502a">for Nursing Practice</text>
<text class="h" x="1034" y="760" fill="#3db04a">Regulation, Influence on International</text>
<text class="h" x="1034" y="791" fill="#3db04a">Public Health Initiatives</text>
<text class="h" x="272" y="842" fill="#a9c93d">Regulation Influence</text>
<text class="h" x="272" y="874" fill="#a9c93d">on Nursing Education</text>
</g>
</g>
</svg>
